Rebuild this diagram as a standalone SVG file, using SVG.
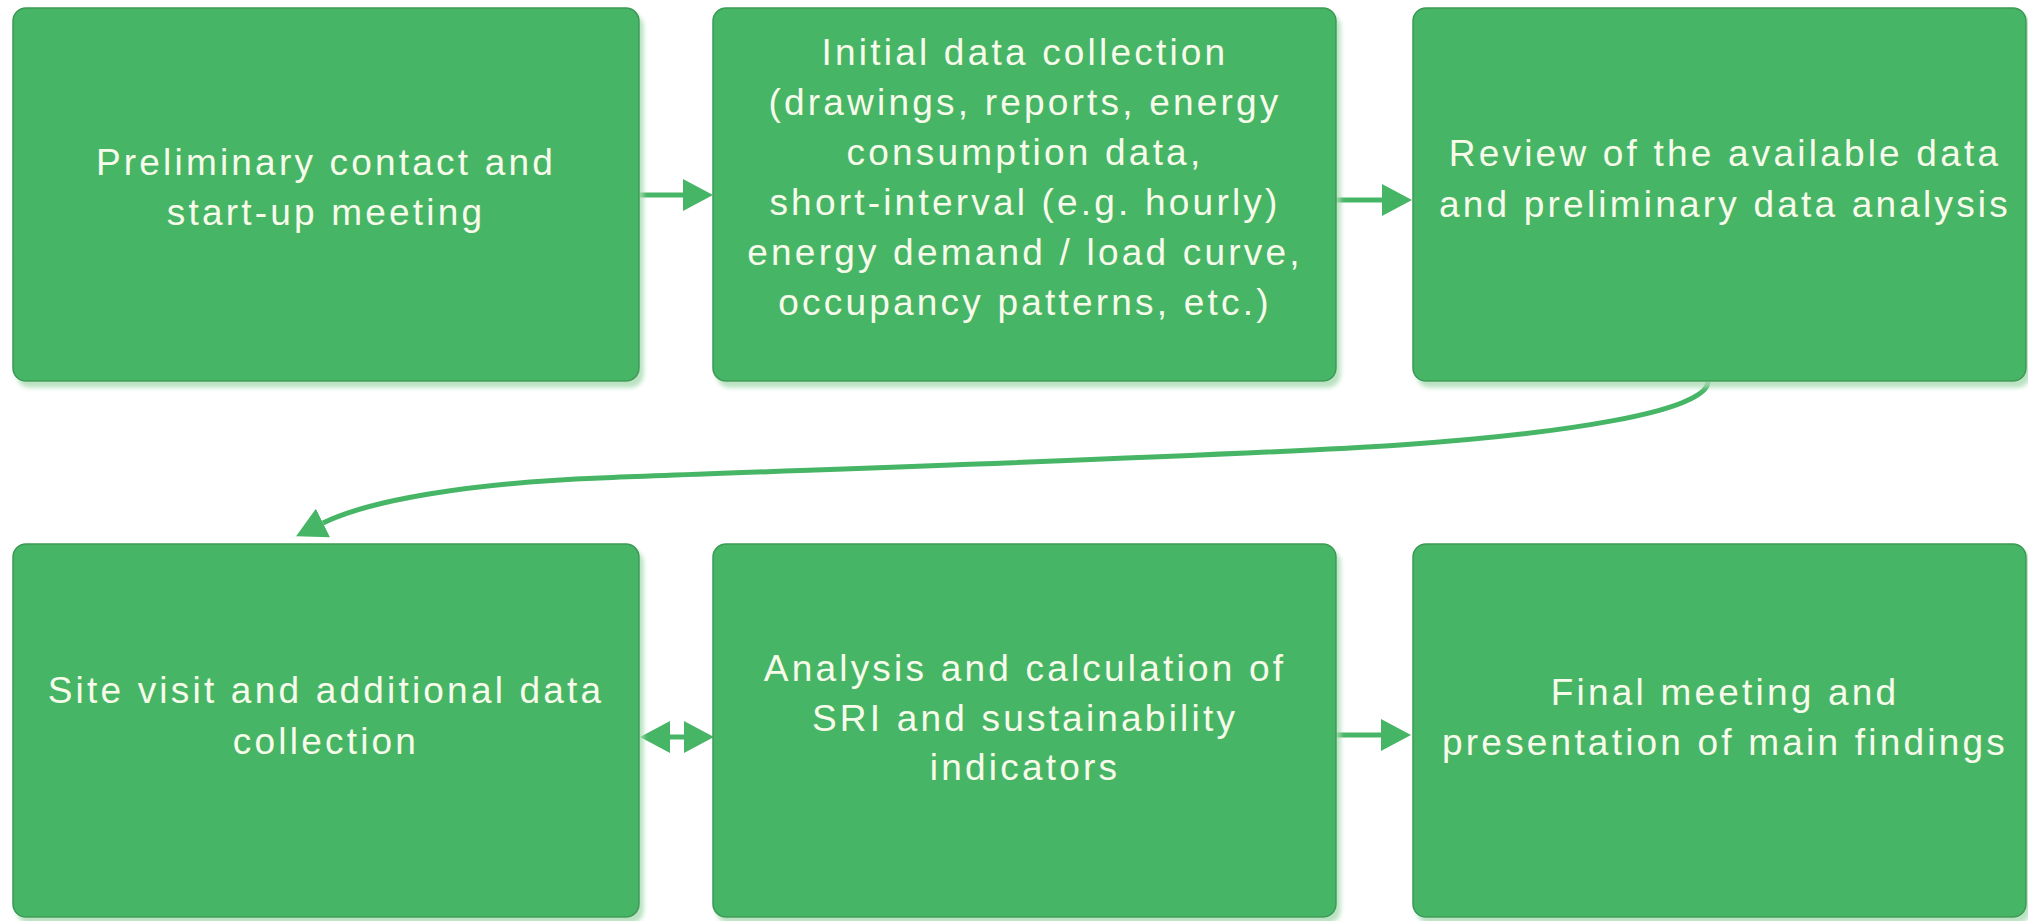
<svg xmlns="http://www.w3.org/2000/svg" width="2028" height="921" viewBox="0 0 2028 921">
<style>
.box{fill:#47b566;stroke:#3a9a55;stroke-width:1.5;filter:url(#sh)}
.t{font-family:"Liberation Sans",Arial,sans-serif;font-size:37px;letter-spacing:3.2px;fill:#f7fbea;text-anchor:middle}
.c{fill:none;stroke:#47b566;stroke-width:5}
</style>
<defs>
<filter id="sh" x="-5%" y="-5%" width="112%" height="115%">
<feDropShadow dx="4" dy="6" stdDeviation="2" flood-color="#a9dcb3" flood-opacity="0.8"/>
</filter>
<marker id="ah" markerUnits="userSpaceOnUse" markerWidth="30" markerHeight="32" viewBox="0 0 30 32" refX="0" refY="16" orient="auto-start-reverse">
<path d="M0,0 L30,16 L0,32 z" fill="#47b566"/>
</marker>
</defs>
<rect width="2028" height="921" fill="#ffffff"/>
<g id="connectors">
<line class="c" x1="639" y1="195" x2="683" y2="195" marker-end="url(#ah)"/>
<line class="c" x1="1336" y1="200" x2="1382" y2="200" marker-end="url(#ah)"/>
<path class="c" d="M1708,382 C1706,412 1560,434 1400,445 S800,470 600,478 C470,483 370,500 323,523" marker-end="url(#ah)"/>
<line class="c" x1="670" y1="737" x2="684" y2="737" marker-start="url(#ah)" marker-end="url(#ah)"/>
<line class="c" x1="1336" y1="735" x2="1381" y2="735" marker-end="url(#ah)"/>
</g>
<g id="n1"><rect class="box" x="13" y="8" width="626" height="373" rx="13"/>
<text class="t" x="326"><tspan x="326" y="175">Preliminary contact and</tspan><tspan x="326" y="225">start-up meeting</tspan></text></g>
<g id="n2"><rect class="box" x="713" y="8" width="623" height="373" rx="13"/>
<text class="t"><tspan x="1025" y="65">Initial data collection</tspan><tspan x="1025" y="115">(drawings, reports, energy</tspan><tspan x="1025" y="165">consumption data,</tspan><tspan x="1025" y="215">short-interval (e.g. hourly)</tspan><tspan x="1025" y="265">energy demand / load curve,</tspan><tspan x="1025" y="315">occupancy patterns, etc.)</tspan></text></g>
<g id="n3"><rect class="box" x="1413" y="8" width="613" height="373" rx="13"/>
<text class="t"><tspan x="1725" y="166">Review of the available data</tspan><tspan x="1725" y="217">and preliminary data analysis</tspan></text></g>
<g id="n4"><rect class="box" x="13" y="544" width="626" height="373" rx="13"/>
<text class="t"><tspan x="326" y="703">Site visit and additional data</tspan><tspan x="326" y="754">collection</tspan></text></g>
<g id="n5"><rect class="box" x="713" y="544" width="623" height="373" rx="13"/>
<text class="t"><tspan x="1025" y="681">Analysis and calculation of</tspan><tspan x="1025" y="731">SRI and sustainability</tspan><tspan x="1025" y="780">indicators</tspan></text></g>
<g id="n6"><rect class="box" x="1413" y="544" width="613" height="373" rx="13"/>
<text class="t"><tspan x="1725" y="705">Final meeting and</tspan><tspan x="1725" y="755">presentation of main findings</tspan></text></g>
</svg>
